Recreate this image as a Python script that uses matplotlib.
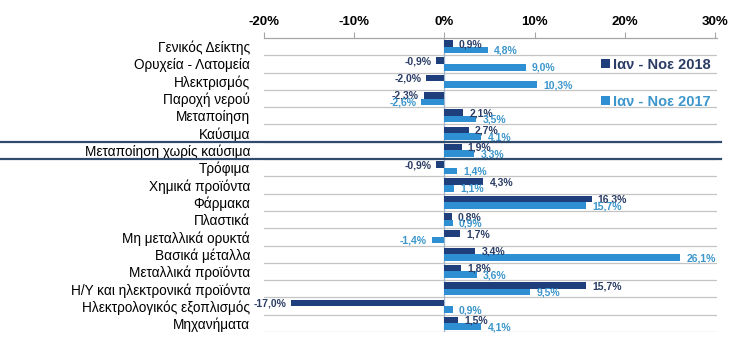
import numpy as np
import matplotlib
matplotlib.use('Agg')
import matplotlib.pyplot as plt
from matplotlib.ticker import FixedLocator

plt.rcParams['font.family'] = ['Liberation Sans', 'DejaVu Sans']

# Δεδομένα
categories = ['Γενικός Δείκτης', 'Ορυχεία - Λατομεία', 'Ηλεκτρισμός', 'Παροχή νερού',
              'Μεταποίηση', 'Καύσιμα', 'Μεταποίηση χωρίς καύσιμα', 'Τρόφιμα',
              'Χημικά προϊόντα', 'Φάρμακα', 'Πλαστικά', 'Μη μεταλλικά ορυκτά',
              'Βασικά μέταλλα', 'Μεταλλικά προϊόντα', 'Η/Υ και ηλεκτρονικά προϊόντα',
              'Ηλεκτρολογικός εξοπλισμός', 'Μηχανήματα']
vals_2018 = [0.9, -0.9, -2.0, -2.3, 2.1, 2.7, 1.9, -0.9, 4.3, 16.3, 0.8, 1.7, 3.4, 1.8, 15.7, -17.0, 1.5]
vals_2017 = [4.8, 9.0, 10.3, -2.6, 3.5, 4.1, 3.3, 1.4, 1.1, 15.7, 0.9, -1.4, 26.1, 3.6, 9.5, 0.9, 4.1]
series_names = ['Ιαν - Νοε 2018', 'Ιαν - Νοε 2017']
x_ticks = [-20, -10, 0, 10, 20, 30]

dark = '#1F3E7C'
light = '#2E8FD2'
dark_txt = '#2B3D66'
light_txt = '#3C96CC'

fig = plt.figure(figsize=(7.47, 3.54), dpi=100)
ax = fig.add_axes([0.3534, 0.0621, 0.6064, 0.8305])

y = np.arange(len(categories))
h = 0.38
ax.barh(y - 0.19, vals_2018, height=h, color=dark, label=series_names[0], zorder=3)
ax.barh(y + 0.19, vals_2017, height=h, color=light, label=series_names[1], zorder=3)

def fmt(v):
    return f'{v:.1f}%'.replace('.', ',')

for yy, v in zip(y, vals_2018):
    off = 4.5 if v >= 0 else -3.5
    ax.annotate(fmt(v), (v, yy - 0.19), xytext=(off, -0.5), textcoords='offset points',
                ha='left' if v >= 0 else 'right', va='center', fontsize=7.5,
                fontweight='bold', color=dark_txt, zorder=4, annotation_clip=False)
for yy, v in zip(y, vals_2017):
    off = 4.5 if v >= 0 else -3.5
    ax.annotate(fmt(v), (v, yy + 0.19), xytext=(off, -0.5), textcoords='offset points',
                ha='left' if v >= 0 else 'right', va='center', fontsize=7.5,
                fontweight='bold', color=light_txt, zorder=4, annotation_clip=False)

ax.set_xlim(-20, 30.2)
ax.set_ylim(len(categories) - 0.5, -0.5)

ax.xaxis.tick_top()
ax.set_xticks(x_ticks)
ax.set_xticklabels([f'{t}%' for t in x_ticks], fontsize=9.5, fontweight='bold')
ax.tick_params(axis='x', length=4, color='#A6A6A6', pad=3)

ax.set_yticks(y)
ax.set_yticklabels(categories, fontsize=9.8)
ax.tick_params(axis='y', length=0, pad=10)
ax.yaxis.set_minor_locator(FixedLocator(np.arange(len(categories)) + 0.5))
ax.tick_params(axis='y', which='minor', length=0)
ax.grid(axis='y', which='minor', color='#C4C4C4', lw=0.9, zorder=1)

for s in ['right', 'bottom', 'left']:
    ax.spines[s].set_visible(False)
ax.spines['top'].set_color('#A6A6A6')
ax.spines['top'].set_linewidth(0.9)

ax.axvline(0, color='#9FB3CC', lw=0.9, zorder=2)

# γραμμές γύρω από "Μεταποίηση χωρίς καύσιμα"
for b in [5.5, 6.5]:
    ax.axhline(b, xmin=-0.583, xmax=1.008, color='#2F4B6E', lw=1.6, clip_on=False, zorder=5)

leg = ax.legend(loc='upper left', bbox_to_anchor=(0.731, 0.952), frameon=False,
                handlelength=0.6, handleheight=0.6, handletextpad=0.2,
                labelspacing=1.55, borderaxespad=0,
                prop={'size': 10.5, 'weight': 'bold'}, labelcolor=[dark_txt, light_txt])

fig.savefig('out.png', dpi=100)
